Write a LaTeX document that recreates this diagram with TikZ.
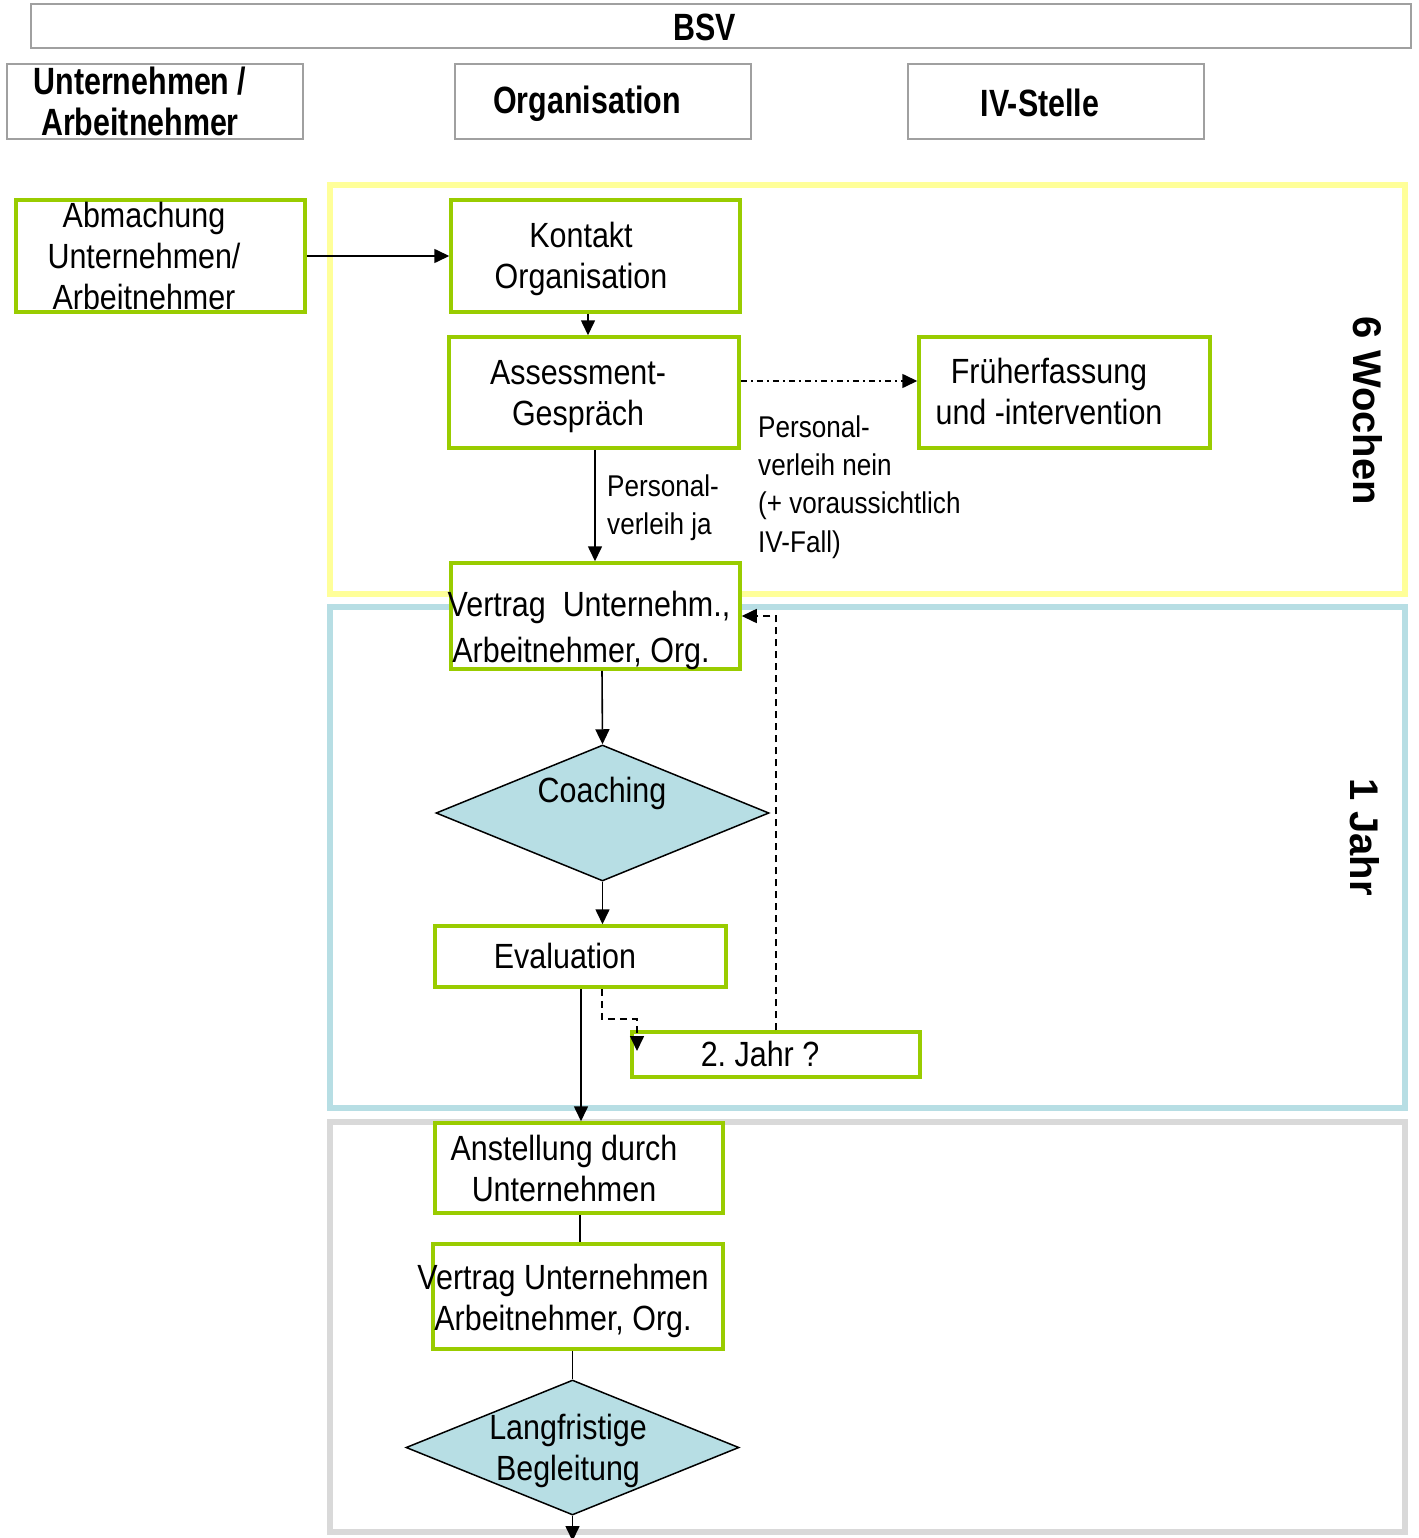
\documentclass[tikz,border=0pt]{standalone}
\usepackage{fontspec}
\setmainfont{Liberation Sans}[FakeStretch=0.87]
\newfontfamily\hdfont{Liberation Sans}[FakeStretch=0.8]
\newfontfamily\phfont{Liberation Sans}
\usetikzlibrary{arrows.meta,shapes.geometric,fit}
\definecolor{grn}{RGB}{153,204,0}
\definecolor{yel}{RGB}{255,255,153}
\definecolor{blu}{RGB}{183,222,228}
\definecolor{gry}{RGB}{217,217,217}
\definecolor{hdg}{RGB}{160,160,160}
\frenchspacing
\begin{document}
\begin{tikzpicture}[x=1pt,y=-1pt,
  hbox/.style={draw=hdg,line width=1.5pt,inner sep=0pt},
  hdtxt/.style={font=\hdfont\bfseries\fontsize{38}{41}\selectfont,align=center,inner sep=0pt},
  phase/.style={draw=#1,line width=6pt,inner sep=0pt},
  gbox/.style={draw=grn,fill=white,line width=3.5pt,inner sep=0pt},
  dia/.style={diamond,draw=black,fill=blu,line width=1.5pt,inner sep=0pt},
  txt/.style={font=\fontsize{35}{41}\selectfont,align=center,inner sep=0pt},
  lbl/.style={font=\fontsize{30}{38.3}\selectfont,align=left,inner sep=0pt,anchor=west},
  phtxt/.style={font=\phfont\bfseries\fontsize{40}{44}\selectfont,rotate=-90,inner sep=0pt},
  conn/.style={draw=black,line width=1.6pt},
  arr/.style={conn,-{Triangle[length=15pt,width=14pt]}},
  dsh/.style={dash pattern=on 7pt off 5pt},
  dshdot/.style={dash pattern=on 6pt off 4pt on 2pt off 4pt}]
\useasboundingbox (0,0) rectangle (1418,1538);
\fill[white] (0,0) rectangle (1418,1538);

% header
\node[hbox,fit={(31,4)(1411,48)}] (bsv) {};
\node[hdtxt] (bsvT) at (705,27) {BSV};
\node[hbox,fit={(7,64)(303,139)}] (hu) {};
\node[hdtxt] (huT) at (140,101) {Unternehmen /\\Arbeitnehmer};
\node[hbox,fit={(455,64)(751,139)}] (ho) {};
\node[hdtxt] (hoT) at (587,104) {Organisation};
\node[hbox,fit={(908,64)(1204,139)}] (hi) {};
\node[hdtxt] (hiT) at (1040,103) {IV-Stelle};

% phases
\node[phase=yel,fit={(330,185)(1405,594)}] (ph1) {};
\node[phase=blu,fit={(330,607)(1405,1108)}] (ph2) {};
\node[phase=gry,fit={(330,1122)(1405,1532)}] (ph3) {};
\node[phtxt] (ph1T) at (1368,411) {6 Wochen};
\node[phtxt] (ph2T) at (1365,837) {1 Jahr};

% boxes
\node[gbox,fit={(16,200)(305,312)}] (abm) {};
\node[txt] (abmT) at (144,255.5) {Abmachung\\Unternehmen/\\Arbeitnehmer};
\node[gbox,fit={(451,200)(740,312)}] (kon) {};
\node[txt] (konT) at (581,259) {Kontakt\\Organisation};
\node[gbox,fit={(449,337)(739,448)}] (ass) {};
\node[txt] (assT) at (578,396.5) {Assessment-\\Gespräch};
\node[gbox,fit={(919,337)(1210,448)}] (fru) {};
\node[txt] (fruT) at (1049,391.5) {Früherfassung\\und -intervention};
\node[gbox,fit={(451,563)(740,669)}] (ver) {};
\node[txt,font=\fontsize{35}{46}\selectfont] (verT) at (589,630) {Vertrag\ \ Unternehm.,\\Arbeitnehmer, Org.\hspace*{16pt}};
\node[dia,minimum width=333pt,minimum height=136pt] (coa) at (602.5,813) {};
\node[txt] (coaT) at (602,793) {Coaching};
\node[gbox,fit={(435,926)(726,987)}] (eva) {};
\node[txt] (evaT) at (565,956) {Evaluation};
\node[gbox,fit={(632,1032)(920,1077)}] (jah) {};
\node[txt] (jahT) at (760,1054) {2. Jahr ?};
\node[gbox,fit={(435,1123)(723,1213)}] (ans) {};
\node[txt] (ansT) at (564,1168) {Anstellung durch\\Unternehmen};
\node[gbox,fit={(433,1244)(723,1349)}] (ve2) {};
\node[txt] (ve2T) at (563,1300.5) {Vertrag Unternehmen\\Arbeitnehmer, Org.};
\node[dia,minimum width=333pt,minimum height=135pt] (lan) at (572.5,1447.5) {};
\node[txt] (lanT) at (568,1451) {Langfristige\\Begleitung};

% labels
\node[lbl] (l1) at (607,508) {Personal-\\verleih ja};
\node[lbl] (l2) at (758,487) {Personal-\\verleih nein\\(+ voraussichtlich\\IV-Fall)};

% coordinates
\coordinate (c1) at (588,0);
\coordinate (c2) at (595,0);
\coordinate (c3) at (602,0);
\coordinate (c4) at (581,0);
\coordinate (c7) at (580,0);
\coordinate (d1) at (0,381);
\coordinate (e1) at (602,1019);
\coordinate (e2) at (637,1019);
\coordinate (e3) at (637,1051);
\coordinate (j1) at (776,616);
\coordinate (bot) at (572.5,1541);

% connectors
\draw[arr] (abm.east) -- (kon.west);
\draw[arr] (kon.south -| c1) -- (ass.north -| c1);
\draw[arr] (ass.south -| c2) -- (ver.north -| c2);
\draw[arr,dshdot] (ass.east |- d1) -- (fru.west |- d1);
\draw[arr] (ver.south -| c3) -- (coa.north);
\draw[arr] (coa.south) -- (eva.north -| coa.south);
\draw[arr] (eva.south -| c4) -- (ans.north -| c4);
\draw[arr,dsh] (eva.south -| e1) -- (e1) -- (e2) -- (e3);
\draw[arr,dsh] (jah.north) -- (j1) -- (ver.east |- j1);
\draw[conn] (ans.south -| c7) -- (ve2.north -| c7);
\draw[conn] (ve2.south -| lan.north) -- (lan.north);
\draw[arr] (lan.south) -- (bot);
\end{tikzpicture}
\end{document}
